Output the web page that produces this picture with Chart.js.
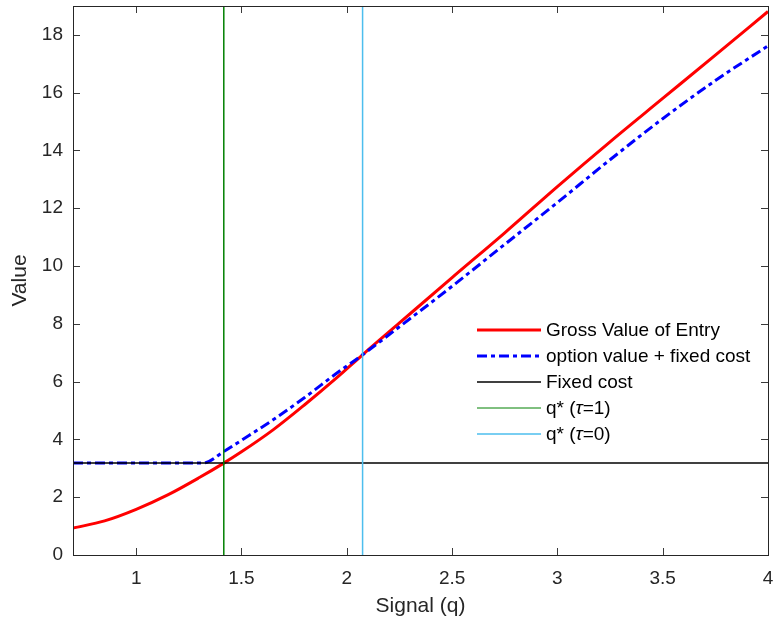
<!DOCTYPE html>
<html>
<head>
<meta charset="utf-8">
<script src="https://cdn.jsdelivr.net/npm/chart.js@4.4.1/dist/chart.umd.min.js"></script>
<style>
  html, body { margin: 0; padding: 0; background: #fff; }
  #wrap { width: 775px; height: 627px; }
</style>
</head>
<body>
<div id="wrap"><canvas id="valueChart"></canvas></div>
<script>
// gross value of entry
const qGross = [0.7, 0.85, 1.0, 1.15, 1.3, 1.416, 1.5, 1.65, 1.8, 1.95, 2.075, 2.25, 2.5, 2.75, 3.0, 3.25, 3.5, 3.75, 4.0];
const gross  = [0.93, 1.18, 1.58, 2.08, 2.68, 3.18, 3.57, 4.33, 5.2, 6.12, 6.93, 8.03, 9.6, 11.15, 12.75, 14.3, 15.8, 17.3, 18.81];

// option value + fixed cost
const qOption = [0.7, 1.316, 1.416, 1.5, 1.65, 1.8, 1.95, 2.075, 2.25, 2.5, 2.75, 3.0, 3.25, 3.5, 3.75, 4.0];
const option  = [3.18, 3.18, 3.58, 3.97, 4.68, 5.45, 6.28, 6.93, 7.9, 9.3, 10.75, 12.2, 13.68, 15.1, 16.42, 17.62];

const fixedCost = 3.18;
const qStar1 = 1.416;   // tau = 1
const qStar0 = 2.075;   // tau = 0

const xRange = [0.7, 4];
const yRange = [0, 19];
const xTicks = [1, 1.5, 2, 2.5, 3, 3.5, 4];
const yTicks = [0, 2, 4, 6, 8, 10, 12, 14, 16, 18];

const FONT = '"Liberation Sans", Arial, Helvetica, sans-serif';
const TXT = '#262626';

function pts(xs, ys) {
    return xs.map((x, i) => ({ x: x, y: ys[i] }));
}

// legend entries (labels shown inside the axes)
const legendItems = [
    { text: ['Gross Value of Entry'], color: '#ff0000', width: 3, dash: [] },
    { text: ['option value + fixed cost'], color: '#0000ff', width: 3, dash: [10, 4, 4, 4] },
    { text: ['Fixed cost'], color: '#000000', width: 1.5, dash: [] },
    { text: ['q* (', 'τ', '=1)'], color: '#008000', width: 1, dash: [] },
    { text: ['q* (', 'τ', '=0)'], color: '#4dbeee', width: 1.5, dash: [] }
];

// box + inward ticks + legend, MATLAB style
const axesBox = {
    id: 'axesBox',
    afterDraw(chart) {
        const c = chart.ctx;
        const a = chart.chartArea;
        const xs = chart.scales.x, ys = chart.scales.y;
        c.save();
        c.strokeStyle = '#3a3a3a';
        c.lineWidth = 1;
        c.beginPath();
        xTicks.forEach(v => {
            const px = Math.round(xs.getPixelForValue(v)) + 0.5;
            c.moveTo(px, a.bottom); c.lineTo(px, a.bottom - 7);
            c.moveTo(px, a.top); c.lineTo(px, a.top + 7);
        });
        yTicks.forEach(v => {
            const py = Math.round(ys.getPixelForValue(v)) + 0.5;
            c.moveTo(a.left, py); c.lineTo(a.left + 7, py);
            c.moveTo(a.right, py); c.lineTo(a.right - 7, py);
        });
        c.stroke();
        c.strokeStyle = '#262626';
        c.strokeRect(Math.round(a.left) + 0.5, Math.round(a.top) + 0.5,
                     Math.round(a.right - a.left), Math.round(a.bottom - a.top));

        // legend
        const lx0 = 477, lx1 = 541, tx = 546;
        const rowY = [330, 356, 382, 408, 434];
        c.textBaseline = 'middle';
        legendItems.forEach((it, i) => {
            const y = rowY[i];
            c.beginPath();
            c.strokeStyle = it.color;
            c.lineWidth = it.width;
            c.setLineDash(it.dash);
            c.moveTo(lx0, y); c.lineTo(lx1, y);
            c.stroke();
            c.setLineDash([]);
            let x = tx;
            c.fillStyle = '#000';
            it.text.forEach(part => {
                c.font = (part === 'τ' ? 'italic ' : '') + '19px ' + FONT;
                c.fillText(part, x, y + 1);
                x += c.measureText(part).width;
            });
        });
        c.restore();
    }
};

const ctx = document.getElementById('valueChart').getContext('2d');
const valueChart = new Chart(ctx, {
    type: 'line',
    data: {
        datasets: [
            {
                label: 'Gross Value of Entry',
                data: pts(qGross, gross),
                borderColor: '#ff0000',
                borderWidth: 3,
                cubicInterpolationMode: 'monotone',
                pointRadius: 0,
                order: 5
            },
            {
                label: 'option value + fixed cost',
                data: pts(qOption, option),
                borderColor: '#0000ff',
                borderWidth: 3,
                borderDash: [10, 4, 4, 4],
                cubicInterpolationMode: 'monotone',
                pointRadius: 0,
                order: 4
            },
            {
                label: 'Fixed cost',
                data: pts(xRange, [fixedCost, fixedCost]),
                borderColor: '#000000',
                borderWidth: 1.5,
                pointRadius: 0,
                order: 3
            },
            {
                label: 'q* (τ=1)',
                data: pts([qStar1, qStar1], yRange),
                borderColor: '#008000',
                borderWidth: 1.5,
                pointRadius: 0,
                order: 2
            },
            {
                label: 'q* (τ=0)',
                data: pts([qStar0, qStar0], yRange),
                borderColor: '#4dbeee',
                borderWidth: 1.5,
                pointRadius: 0,
                order: 1
            }
        ]
    },
    options: {
        responsive: true,
        maintainAspectRatio: false,
        animation: false,
        layout: { padding: { left: 0, right: 7, top: 6, bottom: 0 } },
        plugins: {
            legend: { display: false },
            tooltip: { enabled: false }
        },
        scales: {
            x: {
                type: 'linear',
                min: xRange[0],
                max: xRange[1],
                afterBuildTicks: s => { s.ticks = xTicks.map(v => ({ value: v })); },
                afterFit: s => { s.height = 72; s.paddingLeft = 0; s.paddingRight = 0; },
                grid: { display: false, drawTicks: false },
                border: { display: false },
                ticks: {
                    color: TXT,
                    padding: 12,
                    font: { family: FONT, size: 19 },
                    callback: v => String(v)
                },
                title: {
                    display: true,
                    text: 'Signal (q)',
                    color: TXT,
                    font: { family: FONT, size: 21 },
                    padding: { top: 0, bottom: 8 }
                }
            },
            y: {
                type: 'linear',
                min: yRange[0],
                max: yRange[1],
                afterBuildTicks: s => { s.ticks = yTicks.map(v => ({ value: v })); },
                afterFit: s => { s.width = 73; s.paddingTop = 0; s.paddingBottom = 0; },
                grid: { display: false, drawTicks: false },
                border: { display: false },
                ticks: {
                    color: TXT,
                    padding: 10,
                    font: { family: FONT, size: 19 },
                    callback: v => String(v)
                },
                title: {
                    display: true,
                    text: 'Value',
                    color: TXT,
                    font: { family: FONT, size: 21 },
                    padding: { top: 8, bottom: 0 }
                }
            }
        }
    },
    plugins: [axesBox]
});
</script>
</body>
</html>
